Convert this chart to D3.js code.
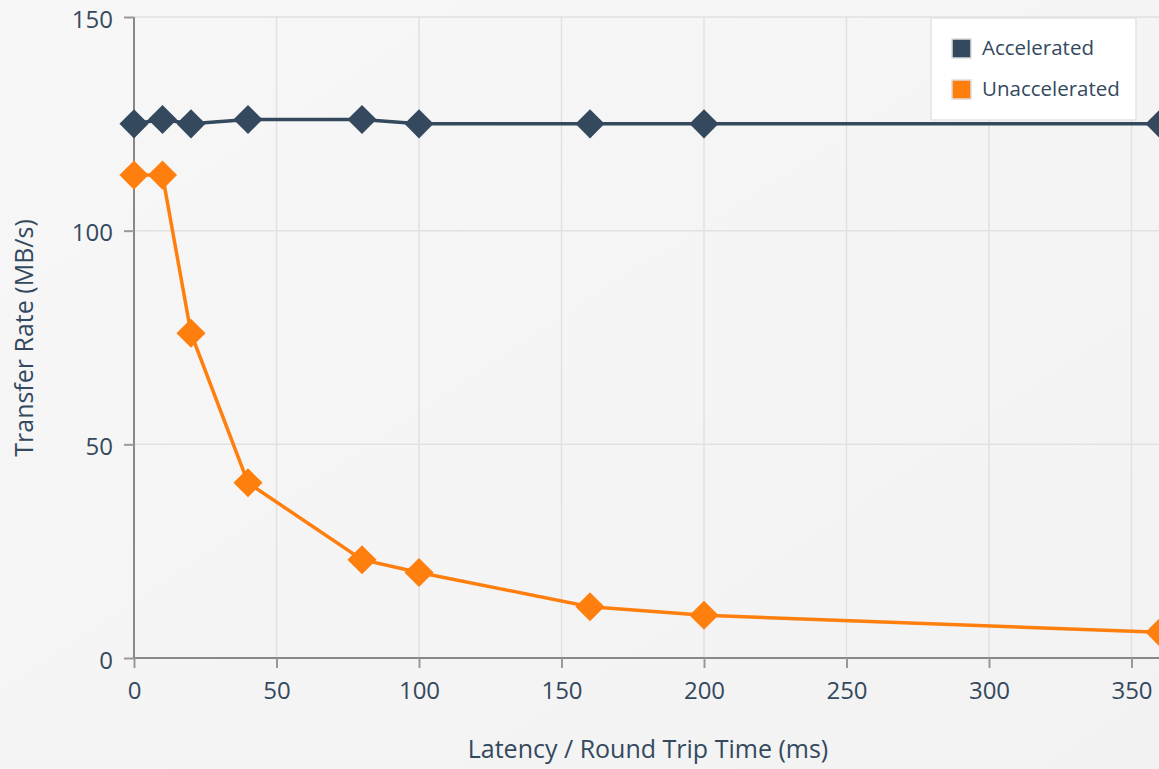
<!DOCTYPE html>
<html><head><meta charset="utf-8">
<script src="https://cdn.jsdelivr.net/npm/d3@7"></script>
<style>
html,body{margin:0;padding:0;background:#f5f5f5;overflow:hidden;}
svg{display:block;font-family:"Open Sans","Noto Sans",sans-serif;}
</style></head><body>
<svg id="c" width="1159" height="769"></svg>
<script>
const latency = [0, 10, 20, 40, 80, 100, 160, 200, 360];
const accelerated = [125, 126, 125, 126, 126, 125, 125, 125, 125];
const unaccelerated = [113, 113, 76, 41, 23, 20, 12, 10, 6];
const seriesNames = ["Accelerated", "Unaccelerated"];
const seriesColors = ["#34495e", "#ff7f0e"];
const xTicks = [0, 50, 100, 150, 200, 250, 300, 350];
const yTicks = [0, 50, 100, 150];

const svg = d3.select("#c");
const W = 1159, H = 769;
const defs = svg.append("defs");
const g0 = defs.append("linearGradient").attr("id","bg").attr("x1","0").attr("y1","0").attr("x2","1").attr("y2","1");
g0.append("stop").attr("offset","0").attr("stop-color","#f7f7f7");
g0.append("stop").attr("offset","1").attr("stop-color","#f2f2f2");
svg.append("rect").attr("width",W).attr("height",H).attr("fill","url(#bg)");

const x = d3.scaleLinear().domain([0, 360]).range([134, 1160]);
const y = d3.scaleLinear().domain([0, 150]).range([658, 17]);
const textColor = "#34495e";

// grid
const grid = svg.append("g");
grid.selectAll(".gx").data(xTicks.filter(d=>d>0)).join("line")
  .attr("x1",d=>x(d)).attr("x2",d=>x(d)).attr("y1",y(0)).attr("y2",y(150))
  .attr("stroke","#e1e1e1").attr("stroke-width",1.5);
grid.selectAll(".gy").data(yTicks.filter(d=>d>0)).join("line")
  .attr("x1",x(0)).attr("x2",W).attr("y1",d=>y(d)).attr("y2",d=>y(d))
  .attr("stroke","#e1e1e1").attr("stroke-width",1.5);

// axes
const xAxis = svg.append("g").attr("transform",`translate(0,${y(0)})`)
  .call(d3.axisBottom(x).tickValues(xTicks).tickSize(10).tickPadding(14).tickFormat(d3.format("d")));
const yAxis = svg.append("g").attr("transform",`translate(${x(0)},0)`)
  .call(d3.axisLeft(y).tickValues(yTicks).tickSize(10).tickPadding(11).tickFormat(d3.format("d")));
[xAxis,yAxis].forEach(a=>{
  a.select(".domain").attr("stroke","#888").attr("stroke-width",2);
  a.selectAll(".tick line").attr("stroke","#999").attr("stroke-width",2);
  a.selectAll(".tick text").attr("fill",textColor).attr("font-size",24).attr("font-family","'Open Sans','Noto Sans',sans-serif");
});
xAxis.select(".domain").attr("d",`M${x(0)},0H${W}`);
yAxis.select(".domain").attr("d",`M0,${y(0)}V${y(150)}`);
yAxis.selectAll(".tick text").attr("dy","0.42em");

// axis titles
svg.append("text").attr("x",648).attr("y",758).attr("text-anchor","middle")
  .attr("fill",textColor).attr("font-size",25).text("Latency / Round Trip Time (ms)");
svg.append("text").attr("transform",`translate(33,338) rotate(-90)`).attr("text-anchor","middle")
  .attr("fill",textColor).attr("font-size",25).text("Transfer Rate (MB/s)");

// series
const series = [accelerated, unaccelerated];
const line = d3.line().x(d=>x(d[0])).y(d=>y(d[1]));
const diamond = d3.symbol().type(d3.symbolDiamond2).size(540);
series.slice().reverse().forEach((vals, ri)=>{
  const i = series.length-1-ri;
  const pts = latency.map((l,k)=>[l, vals[k]]);
  const gs = svg.append("g");
  gs.append("path").attr("d",line(pts)).attr("fill","none").attr("stroke",seriesColors[i]).attr("stroke-width",3.5);
  gs.selectAll("path.m").data(pts).join("path").attr("class","m")
    .attr("transform",d=>`translate(${x(d[0])},${y(d[1])})`)
    .attr("d",diamond).attr("fill",seriesColors[i]);
});

// legend
const lg = svg.append("g").attr("transform","translate(931,18)");
lg.append("rect").attr("width",205).attr("height",102).attr("fill","#ffffff").attr("stroke","#e3e3e3").attr("stroke-width",1.5);
seriesNames.forEach((n,i)=>{
  const yy = 30 + i*41;
  lg.append("rect").attr("x",21).attr("y",yy-9).attr("width",19).attr("height",19)
    .attr("fill",seriesColors[i]).attr("stroke","#dddddd").attr("stroke-width",1.5);
  lg.append("text").attr("x",51).attr("y",yy).attr("dy","0.36em").attr("fill",textColor)
    .attr("font-size",20.5).text(n);
});
</script>
</body></html>
